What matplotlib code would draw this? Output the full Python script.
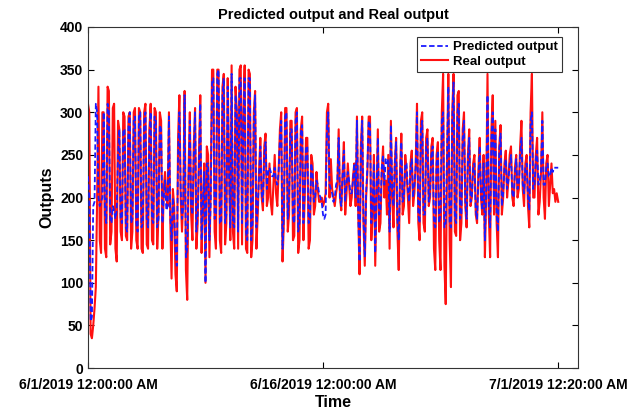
import matplotlib
matplotlib.use("Agg")
import matplotlib.pyplot as plt
import pandas as pd

# readings every 2 hours, 12 per day, plus the final 00:20 sample
real_output = [
    310, 300, 40, 35, 50, 70, 95, 200, 330, 150, 135, 300,
    300, 140, 130, 330, 325, 145, 160, 305, 310, 140, 125, 290,
    280, 160, 150, 300, 295, 155, 150, 295, 300, 140, 160, 300,
    305, 150, 140, 305, 300, 140, 135, 300, 310, 145, 140, 280,
    310, 150, 145, 305, 300, 140, 180, 300, 290, 140, 210, 230,
    200, 190, 300, 175, 105, 210, 190, 110, 90, 270, 320, 200,
    160, 200, 325, 115, 80, 230, 300, 180, 150, 260, 305, 140,
    170, 250, 320, 135, 190, 240, 100, 260, 250, 130, 210, 350,
    350, 160, 140, 350, 350, 150, 135, 330, 345, 145, 170, 340,
    240, 150, 355, 160, 140, 330, 300, 140, 350, 355, 145, 300,
    355, 140, 135, 350, 345, 130, 150, 300, 325, 140, 180, 230,
    270, 200, 185, 260, 275, 190, 200, 240, 195, 180, 215, 250,
    205, 190, 230, 280, 300, 125, 170, 305, 305, 160, 180, 290,
    290, 150, 155, 300, 305, 135, 150, 280, 295, 150, 200, 270,
    270, 140, 150, 250, 240, 180, 190, 230, 210, 195, 195, 200,
    190, 195, 205, 300, 310, 200, 245, 210, 200, 190, 205, 215,
    280, 200, 185, 230, 265, 180, 205, 240, 215, 190, 200, 225,
    240, 190, 295, 180, 110, 260, 295, 170, 120, 200, 230, 295,
    295, 150, 180, 250, 120, 200, 280, 160, 170, 230, 260, 200,
    220, 180, 250, 140, 290, 200, 165, 240, 270, 160, 115, 230,
    275, 180, 190, 250, 230, 200, 170, 240, 255, 190, 205, 240,
    310, 170, 150, 290, 300, 170, 160, 270, 280, 190, 200, 260,
    270, 140, 115, 250, 265, 150, 115, 300, 345, 120, 75, 240,
    345, 150, 95, 300, 345, 160, 155, 320, 325, 150, 170, 280,
    300, 190, 165, 250, 280, 190, 200, 240, 250, 180, 170, 230,
    270, 200, 180, 250, 130, 200, 345, 180, 130, 280, 320, 180,
    290, 170, 130, 260, 285, 180, 200, 240, 255, 200, 220, 250,
    260, 200, 190, 235, 250, 200, 210, 260, 290, 210, 190, 240,
    250, 190, 165, 300, 345, 200, 200, 250, 270, 180, 195, 230,
    300, 200, 175, 240, 250, 190, 215, 240, 205, 210, 195, 205,
    195,
]

predicted_output = [
    225, 200, 55, 60, 190, 195, 310, 300, 200, 190, 195, 200,
    300, 180, 170, 310, 300, 175, 170, 190, 185, 175, 185, 250,
    280, 175, 170, 280, 280, 165, 160, 285, 300, 170, 175, 290,
    295, 170, 160, 295, 300, 165, 170, 290, 300, 175, 165, 270,
    300, 175, 170, 295, 290, 165, 175, 285, 280, 170, 200, 220,
    185, 190, 295, 180, 150, 200, 180, 140, 120, 250, 300, 210,
    175, 190, 320, 130, 140, 220, 290, 190, 180, 250, 300, 160,
    180, 240, 310, 150, 190, 230, 100, 240, 240, 150, 195, 335,
    340, 175, 180, 345, 350, 170, 170, 320, 340, 170, 180, 330,
    230, 165, 345, 170, 165, 320, 300, 160, 340, 340, 170, 290,
    340, 160, 150, 340, 340, 150, 170, 290, 320, 165, 190, 225,
    260, 205, 195, 250, 265, 210, 230, 235, 230, 225, 225, 235,
    220, 215, 230, 270, 290, 140, 180, 295, 300, 175, 200, 280,
    280, 175, 170, 290, 300, 160, 170, 275, 285, 170, 210, 260,
    260, 170, 175, 240, 230, 195, 200, 220, 215, 205, 200, 195,
    180, 175, 180, 280, 300, 215, 210, 205, 195, 200, 215, 220,
    270, 200, 190, 225, 255, 195, 215, 230, 220, 205, 205, 220,
    240, 200, 290, 180, 125, 250, 290, 175, 130, 205, 235, 290,
    285, 170, 190, 240, 135, 205, 270, 180, 185, 235, 250, 215,
    245, 240, 245, 160, 285, 210, 190, 240, 265, 175, 150, 225,
    265, 195, 200, 240, 240, 210, 195, 235, 245, 200, 215, 235,
    300, 180, 170, 280, 290, 180, 180, 260, 270, 195, 205, 250,
    260, 170, 165, 240, 255, 170, 180, 290, 300, 165, 170, 250,
    330, 170, 165, 290, 335, 175, 170, 300, 310, 175, 180, 270,
    290, 195, 175, 245, 270, 195, 200, 235, 240, 185, 175, 220,
    260, 205, 185, 240, 150, 210, 320, 190, 165, 270, 300, 190,
    280, 180, 160, 255, 275, 190, 205, 235, 245, 210, 220, 240,
    250, 205, 200, 230, 245, 210, 215, 250, 270, 215, 205, 235,
    240, 200, 185, 290, 300, 210, 215, 245, 255, 215, 220, 230,
    290, 215, 215, 235, 240, 225, 225, 235, 230, 235, 235, 235,
    235,
]

times = list(pd.date_range("2019-06-01 00:00", periods=360, freq="2h"))
times.append(pd.Timestamp("2019-07-01 00:20"))

tick_times = [pd.Timestamp("2019-06-01 00:00"), pd.Timestamp("2019-06-16 00:00"),
              pd.Timestamp("2019-07-01 00:20")]
tick_labels = ["6/1/2019 12:00:00 AM", "6/16/2019 12:00:00 AM", "7/1/2019 12:20:00 AM"]

plt.rcParams["font.family"] = ["Liberation Sans", "DejaVu Sans"]
plt.rcParams["font.weight"] = "bold"

fig = plt.figure(figsize=(6.4, 4.09), dpi=100)
ax = fig.add_axes([0.1375, 0.100, 0.766, 0.834])

ax.plot(times, real_output, color="#ff1010", linewidth=1.5, label="Real output", zorder=2)
ax.plot(times, predicted_output, color="#1a1aff", linestyle=(0, (3, 1.5)), linewidth=1.3,
        label="Predicted output", zorder=3)

ax.set_xlim(pd.Timestamp("2019-06-01 00:00"), pd.Timestamp("2019-07-02 07:00"))
ax.set_ylim(0, 400)
ax.set_yticks(range(0, 401, 50))
ax.set_xticks(tick_times)
ax.set_xticklabels(tick_labels)

ax.tick_params(direction="in", top=True, right=True, labelsize=10, length=4, width=0.8)
ax.tick_params(axis="x", pad=7)
for s in ax.spines.values():
    s.set_linewidth(0.8)
    s.set_color("#333333")

ax.set_title("Predicted output and Real output", fontsize=10.5, fontweight="bold", pad=6)
ax.set_xlabel("Time", fontsize=11.5, fontweight="bold", labelpad=2)
ax.set_ylabel("Outputs", fontsize=11.5, fontweight="bold", labelpad=4)

handles, labels = ax.get_legend_handles_labels()
leg = ax.legend(handles[::-1], labels[::-1], loc="upper right", fontsize=9.5,
                fancybox=False, edgecolor="#333333", framealpha=1,
                borderpad=0.3, handlelength=2.0, handletextpad=0.4, labelspacing=0.2,
                bbox_to_anchor=(0.98, 0.99))
leg.get_frame().set_linewidth(0.8)

fig.savefig("out.png", dpi=100)
